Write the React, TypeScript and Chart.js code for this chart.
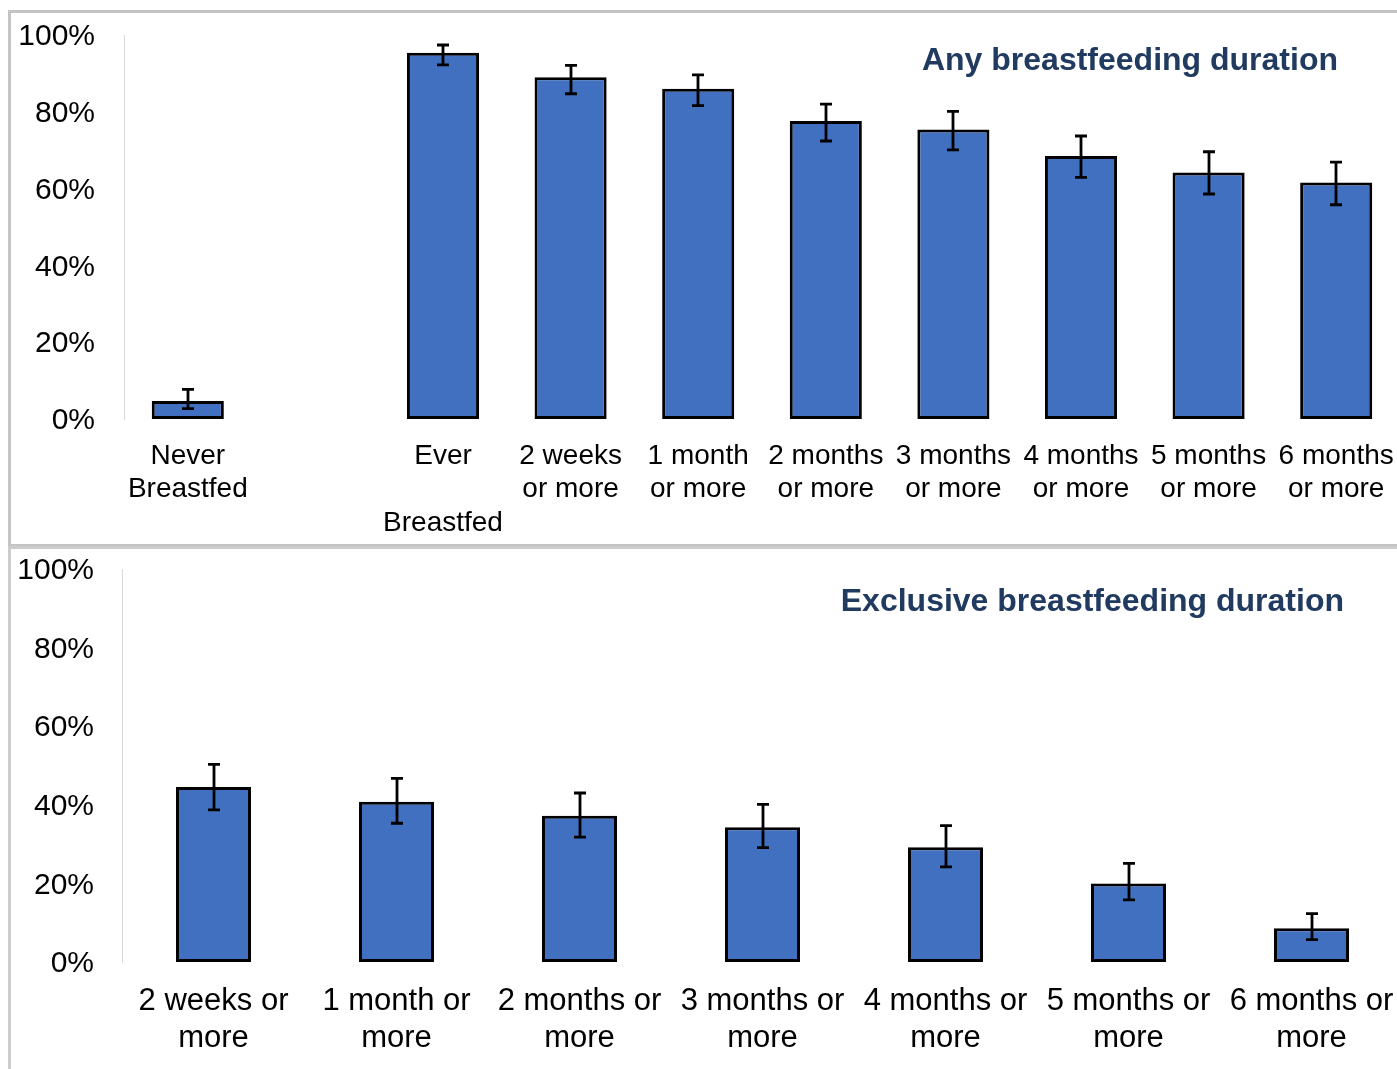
import React, { useEffect, useRef } from "react";
import { Chart, registerables } from "chart.js";

Chart.register(...registerables);

// ---------- data ----------
const anyLabels: (string | string[])[] = [
  ["Never", "Breastfed"],
  "",
  ["Ever", "", "Breastfed"],
  ["2 weeks", "or more"],
  ["1 month", "or more"],
  ["2 months", "or more"],
  ["3 months", "or more"],
  ["4 months", "or more"],
  ["5 months", "or more"],
  ["6 months", "or more"],
];
const anyValues = [4.7, null, 95.4, 89.0, 86.0, 77.6, 75.4, 68.5, 64.2, 61.6];
const anyLower = [2.7, null, 92.2, 84.7, 81.6, 72.4, 70.1, 62.9, 58.6, 55.8];
const anyUpper = [7.7, null, 97.4, 92.1, 89.6, 82.0, 80.1, 73.7, 69.6, 66.9];

const exclLabels: string[][] = [
  ["2 weeks or", "more"],
  ["1 month or", "more"],
  ["2 months or", "more"],
  ["3 months or", "more"],
  ["4 months or", "more"],
  ["5 months or", "more"],
  ["6 months or", "more"],
];
const exclValues = [44.5, 40.8, 37.2, 34.3, 29.2, 20.0, 8.6];
const exclLower = [38.7, 35.3, 31.8, 29.1, 24.2, 15.8, 5.7];
const exclUpper = [50.3, 46.7, 43.0, 40.1, 34.7, 25.1, 12.3];

const yTickValues = [0, 20, 40, 60, 80, 100];

const anyTitle = "Any breastfeeding duration";
const exclTitle = "Exclusive breastfeeding duration";

// ---------- styles ----------
const FONT = "'Liberation Sans', Arial, sans-serif";
const BAR_COLOR = "#4070bf";
const TITLE_COLOR = "#203a60";

const errorBarPlugin = {
  id: "errorBars",
  afterDatasetsDraw(chart: any, _args: any, opts: any) {
    const lower: (number | null)[] = opts.lower || [];
    const upper: (number | null)[] = opts.upper || [];
    const cap: number = opts.cap || 6;
    const meta = chart.getDatasetMeta(0);
    const y = chart.scales.y;
    const ctx = chart.ctx;
    ctx.save();
    ctx.strokeStyle = "#000";
    ctx.lineWidth = 2.8;
    ctx.lineCap = "butt";
    meta.data.forEach((bar: any, i: number) => {
      const lo = lower[i];
      const hi = upper[i];
      if (lo == null || hi == null) return;
      const x = Math.round(bar.x);
      const yl = y.getPixelForValue(lo);
      const yu = y.getPixelForValue(hi);
      ctx.beginPath();
      ctx.moveTo(x, yu);
      ctx.lineTo(x, yl);
      ctx.moveTo(x - cap, yu);
      ctx.lineTo(x + cap, yu);
      ctx.moveTo(x - cap, yl);
      ctx.lineTo(x + cap, yl);
      ctx.stroke();
    });
    ctx.restore();
  },
};

type PanelProps = {
  labels: any[];
  values: (number | null)[];
  lower: (number | null)[];
  upper: (number | null)[];
  left: number;
  top: number;
  width: number;
  height: number;
  padTop: number;
  yWidth: number;
  xHeight: number;
  barFrac: number;
  xFont: number;
  yFont: number;
  xPad: number;
  yPad: number;
};

function Panel(p: PanelProps) {
  const ref = useRef<HTMLCanvasElement>(null);
  useEffect(() => {
    if (!ref.current) return;
    const chart = new Chart(ref.current, {
      type: "bar",
      data: {
        labels: p.labels,
        datasets: [
          {
            data: p.values as any,
            backgroundColor: BAR_COLOR,
            borderColor: "#000",
            borderWidth: 3,
            borderSkipped: false,
            categoryPercentage: 1,
            barPercentage: p.barFrac,
          },
        ],
      },
      options: {
        animation: false,
        responsive: false,
        maintainAspectRatio: false,
        devicePixelRatio: 1,
        layout: { padding: { top: p.padTop, left: 0, right: 0, bottom: 0 } },
        plugins: {
          legend: { display: false },
          tooltip: { enabled: false },
          title: { display: false },
          errorBars: { lower: p.lower, upper: p.upper, cap: 6 },
        } as any,
        scales: {
          x: {
            grid: { display: false, drawTicks: false },
            border: { display: false },
            ticks: {
              color: "#000",
              font: { family: FONT, size: p.xFont, lineHeight: 1.2 },
              padding: p.xPad,
              maxRotation: 0,
              minRotation: 0,
              autoSkip: false,
            },
            afterFit: (s: any) => {
              s.height = p.xHeight;
              s.paddingLeft = 0;
              s.paddingRight = 0;
            },
          },
          y: {
            min: 0,
            max: 100,
            grid: { display: false, drawTicks: false },
            border: { display: true, color: "#d9d9d9", width: 1 },
            ticks: {
              color: "#000",
              font: { family: FONT, size: p.yFont },
              padding: p.yPad,
              labelOffset: 2,
              callback: (v: any) => v + "%",
            },
            afterBuildTicks: (s: any) => {
              s.ticks = yTickValues.map((v) => ({ value: v }));
            },
            afterFit: (s: any) => {
              s.width = p.yWidth;
              s.paddingTop = 0;
              s.paddingBottom = 0;
            },
          },
        },
      },
      plugins: [errorBarPlugin as any],
    });
    return () => chart.destroy();
  }, []);
  return (
    <canvas
      ref={ref}
      width={p.width}
      height={p.height}
      style={{ position: "absolute", left: p.left, top: p.top, width: p.width, height: p.height }}
    />
  );
}

export default function App() {
  return (
    <div
      style={{
        position: "absolute",
        left: 0,
        top: 0,
        width: 1397,
        height: 1069,
        overflow: "hidden",
        background: "#fff",
        fontFamily: FONT,
      }}
    >
      <Panel
        labels={anyLabels}
        values={anyValues}
        lower={anyLower}
        upper={anyUpper}
        left={0}
        top={0}
        width={1400}
        height={545}
        padTop={35}
        yWidth={124}
        xHeight={126}
        barFrac={0.565}
        xFont={28}
        yFont={30}
        xPad={20}
        yPad={29}
      />
      <Panel
        labels={exclLabels}
        values={exclValues}
        lower={exclLower}
        upper={exclUpper}
        left={0}
        top={547}
        width={1403}
        height={522}
        padTop={22}
        yWidth={122}
        xHeight={107}
        barFrac={0.41}
        xFont={31}
        yFont={30}
        xPad={21}
        yPad={28}
      />
      <div
        style={{
          position: "absolute",
          right: 1397 - 1338,
          top: 43,
          fontSize: 32,
          lineHeight: "32px",
          fontWeight: "bold",
          color: TITLE_COLOR,
          whiteSpace: "nowrap",
        }}
      >
        {anyTitle}
      </div>
      <div
        style={{
          position: "absolute",
          right: 1397 - 1344,
          top: 584,
          fontSize: 32,
          lineHeight: "32px",
          fontWeight: "bold",
          color: TITLE_COLOR,
          whiteSpace: "nowrap",
        }}
      >
        {exclTitle}
      </div>
      <div
        style={{
          position: "absolute",
          left: 8,
          top: 10,
          width: 1400,
          height: 531,
          border: "3px solid #c4c4c4",
          pointerEvents: "none",
        }}
      />
      <div
        style={{
          position: "absolute",
          left: 8,
          top: 546,
          width: 1400,
          height: 540,
          border: "3px solid #cccccc",
          pointerEvents: "none",
        }}
      />
    </div>
  );
}
